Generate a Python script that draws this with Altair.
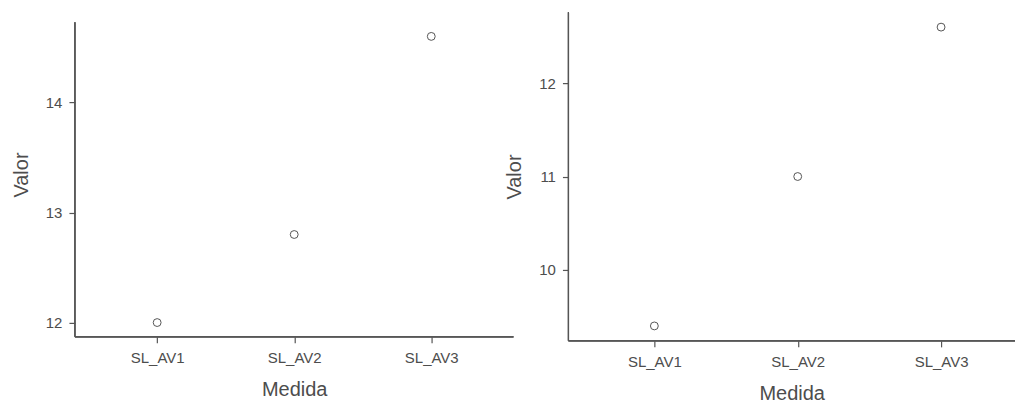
import altair as alt
import pandas as pd

# ---- data ----
medida = ["SL_AV1", "SL_AV2", "SL_AV3"]
valor_left = [12.0, 12.8, 14.6]
valor_right = [9.4, 11.0, 12.6]
ticks_left = [12, 13, 14]
ticks_right = [10, 11, 12]
# left panel: plot area is extended 10px above its axis line so both panels share an origin
domain_left = [11.87, 14.82]
domain_right = [9.24, 12.76]

df_left = pd.DataFrame({"Medida": medida, "Valor": valor_left})
df_right = pd.DataFrame({"Medida": medida, "Valor": valor_right})

GREY = "#555555"
FONT = "Liberation Sans"


def panel(df, ydomain, yticks, w, h, y_top, xpad=0.6, xalign=0.5):
    base = alt.Chart(df)
    pts = base.mark_point(shape="circle", filled=False, stroke=GREY,
                          strokeWidth=1, size=62, opacity=1).encode(
        x=alt.X("Medida:N", sort=medida,
                scale=alt.Scale(type="point", padding=xpad, align=xalign),
                axis=alt.Axis(title="Medida", labelAngle=0, domain=False,
                              tickSize=6, labelPadding=8, titlePadding=14)),
        y=alt.Y("Valor:Q", scale=alt.Scale(domain=ydomain, nice=False, zero=False),
                axis=alt.Axis(title="Valor", values=yticks, tickSize=6, domain=False,
                              labelPadding=7, titlePadding=14)),
    )
    xline = base.mark_rule(color=GREY, strokeWidth=1.2).encode(
        x=alt.value(0), x2=alt.value(w), y=alt.value(h)
    )
    yline = base.mark_rule(color=GREY, strokeWidth=1.2).encode(
        x=alt.value(0), y=alt.value(y_top), y2=alt.value(h)
    )
    return alt.layer(xline, yline, pts).properties(width=w, height=h)


left = panel(df_left, domain_left, ticks_left, 439, 325, y_top=10)
# right panel is cut off at the window edge in the reference
right = panel(df_right, domain_right, ticks_right, 447, 329, y_top=0,
              xpad=0.5575, xalign=0.5375)

chart = alt.hconcat(left, right, spacing=-10).properties(
    padding={"left": 11, "top": 11, "right": 0, "bottom": 0}
).configure_view(stroke=None).configure_axis(
    grid=False,
    domainColor=GREY, domainWidth=1.2,
    tickColor=GREY, tickWidth=1.2,
    labelColor="#4d4d4d", labelFont=FONT, labelFontSize=15,
    titleFont=FONT, titleFontSize=20, titleFontWeight="normal", titleColor="#4d4d4d",
)

chart.save("out.html", embed_options={"renderer": "svg", "actions": False})
